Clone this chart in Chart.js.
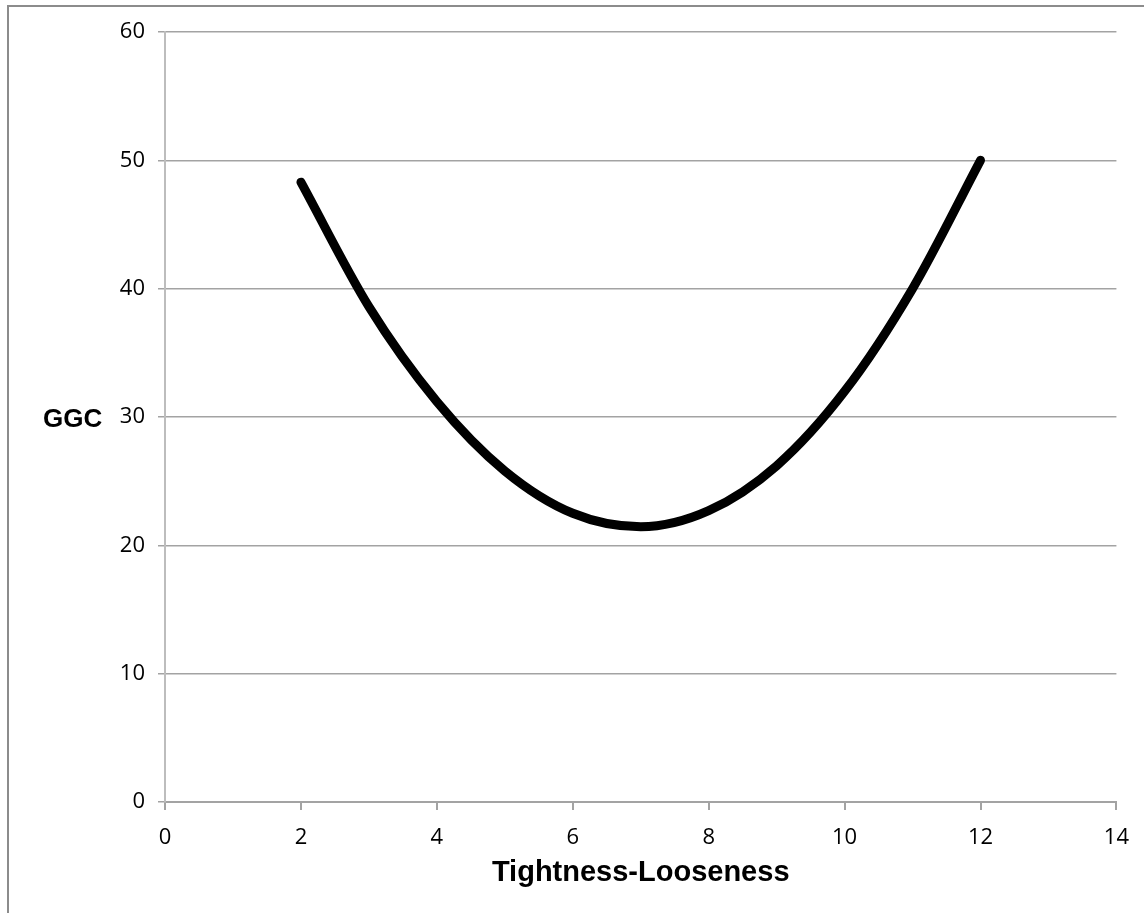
<!DOCTYPE html>
<html>
<head>
<meta charset="utf-8">
<title>GGC vs Tightness-Looseness</title>
<script src="https://cdn.jsdelivr.net/npm/chart.js@4.4.1/dist/chart.umd.min.js"></script>
<style>
  html, body { margin: 0; padding: 0; background: #fff; overflow: hidden; }
  #frame {
    position: absolute; left: 7px; top: 5px; width: 1300px; height: 1100px;
    border-left: 2px solid #8c8c8c; border-top: 2px solid #8c8c8c;
  }
  #chart { position: absolute; left: 0; top: 0; }
</style>
</head>
<body>
<div id="frame"></div>
<canvas id="chart" width="1144" height="913"></canvas>
<script>
// ── Data ──────────────────────────────────────────────────────
const xValues   = [2, 3, 4, 5, 6, 7, 8, 9, 10, 11, 12];
const ggcValues = [48.3, 38.6, 31.2, 25.8, 22.5, 21.45, 22.7, 26.2, 32.0, 40.0, 50.0];
const xTicks    = [0, 2, 4, 6, 8, 10, 12, 14];
const yTicks    = [0, 10, 20, 30, 40, 50, 60];

const xTitle = 'Tightness-Looseness';
const yTitle = 'GGC';

const gridGrey = '#a3a3a3';
const tickFont = { family: "'Open Sans', sans-serif", size: 22 };

// ── Horizontal y title ("GGC") ────────────────────────────────
const yTitlePlugin = {
  id: 'yTitle',
  afterDraw(chart) {
    const ctx = chart.ctx;
    ctx.save();
    ctx.font = "bold 26px 'Liberation Sans', Arial, sans-serif";
    ctx.fillStyle = '#000';
    ctx.textAlign = 'left';
    ctx.textBaseline = 'alphabetic';
    ctx.fillText(yTitle, 43, 427);
    ctx.restore();
  },
};

new Chart(document.getElementById('chart'), {
  type: 'line',
  data: {
    datasets: [{
      data: xValues.map((x, i) => ({ x, y: ggcValues[i] })),
      borderColor: '#000',
      borderWidth: 9,
      borderCapStyle: 'round',
      pointRadius: 0,
      cubicInterpolationMode: 'monotone',
      fill: false,
    }],
  },
  options: {
    responsive: false,
    animation: false,
    layout: { padding: { left: 0, right: 26, top: 32, bottom: 0 } },
    plugins: { legend: { display: false }, tooltip: { enabled: false } },
    scales: {
      x: {
        type: 'linear',
        min: xTicks[0],
        max: xTicks[xTicks.length - 1],
        afterBuildTicks: (s) => { s.ticks = xTicks.map((v) => ({ value: v })); },
        afterFit: (s) => { s.height = 111; },
        grid: { drawOnChartArea: false, drawTicks: true, tickLength: 8, color: gridGrey, lineWidth: 2 },
        border: { color: gridGrey, width: 2 },
        ticks: { color: '#000', font: tickFont, padding: 15, maxRotation: 0 },
        title: {
          display: true,
          text: xTitle,
          color: '#000',
          font: { family: "'Liberation Sans', Arial, sans-serif", size: 29, weight: 'bold' },
          padding: { top: 0, bottom: 23 },
        },
      },
      y: {
        min: yTicks[0],
        max: yTicks[yTicks.length - 1],
        afterBuildTicks: (s) => { s.ticks = yTicks.map((v) => ({ value: v })); },
        afterFit: (s) => { s.width = 165; },
        grid: { color: gridGrey, lineWidth: 1.5, tickLength: 7 },
        border: { color: '#bdbdbd', width: 2 },
        ticks: { color: '#000', font: tickFont, padding: 13 },
      },
    },
  },
  plugins: [yTitlePlugin],
});
</script>
</body>
</html>
